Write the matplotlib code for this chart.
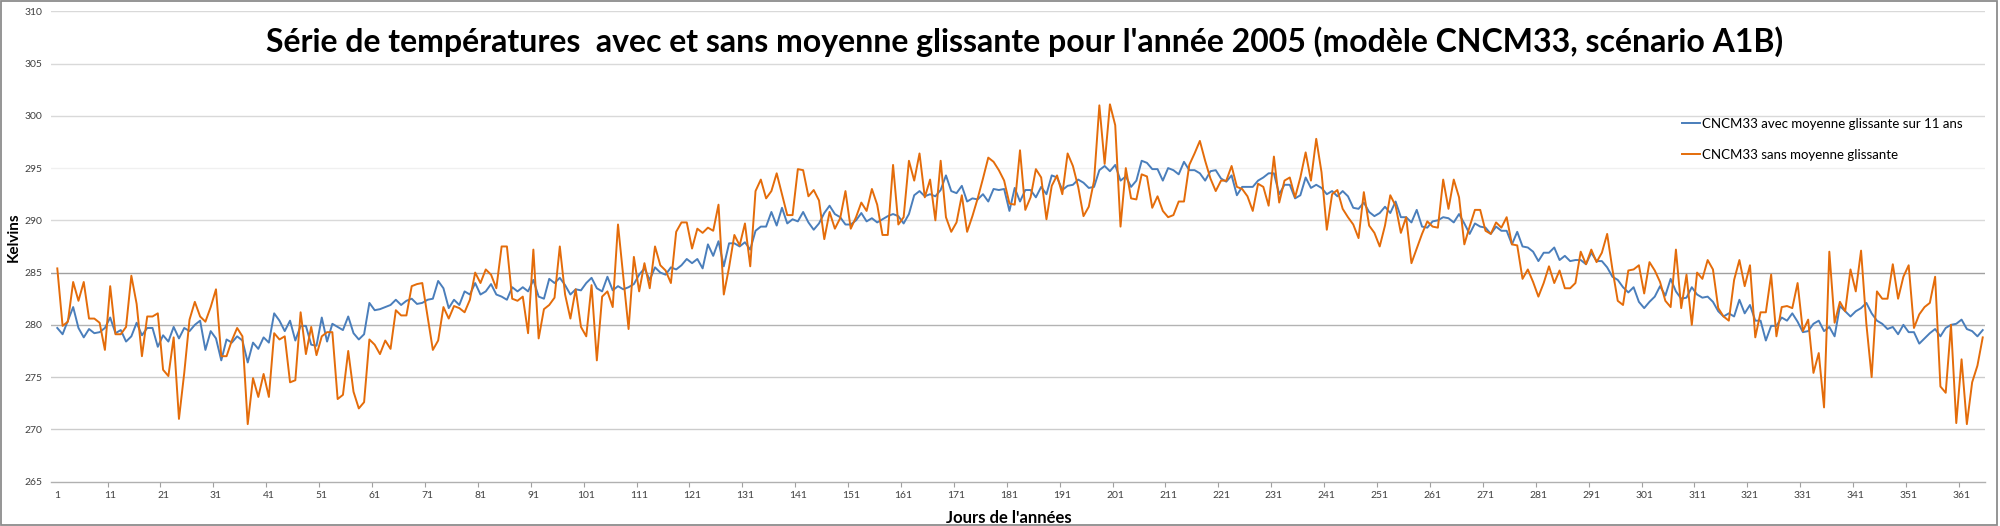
import numpy as np
import matplotlib
matplotlib.use('Agg')
import matplotlib.pyplot as plt
from matplotlib.patches import Rectangle

# jours de l'année
jours = np.arange(1, 366)

# CNCM33 avec moyenne glissante sur 11 ans
temp_avec = [
    279.7, 279.1, 280.4, 281.7, 279.7, 278.8, 279.6, 279.2, 279.3, 279.7,
    280.7, 279.2, 279.5, 278.4, 278.9, 280.2, 279.0, 279.7, 279.7, 277.9,
    279.0, 278.4, 279.8, 278.7, 279.7, 279.4, 280.0, 280.4, 277.6, 279.4,
    278.7, 276.6, 278.6, 278.3, 278.9, 278.5, 276.4, 278.3, 277.7, 278.8,
    278.3, 281.1, 280.4, 279.4, 280.4, 278.5, 279.9, 279.9, 278.1, 278.0,
    280.7, 278.4, 280.1, 279.8, 279.5, 280.8, 279.2, 278.6, 279.1, 282.1,
    281.4, 281.5, 281.7, 281.9, 282.4, 281.9, 282.3, 282.5, 282.0, 282.1,
    282.4, 282.5, 284.2, 283.5, 281.6, 282.4, 281.9, 283.2, 282.9, 284.0,
    282.9, 283.2, 283.9, 282.9, 282.7, 282.4, 283.6, 283.2, 283.6, 283.2,
    284.3, 282.7, 282.5, 284.4, 284.0, 284.5, 283.8, 282.9, 283.4, 283.3,
    284.0, 284.5, 283.5, 283.2, 284.6, 283.3, 283.7, 283.4, 283.6, 283.9,
    284.8, 285.4, 284.3, 285.5, 285.0, 284.8, 285.5, 285.3, 285.7, 286.3,
    285.9, 286.3, 285.4, 287.7, 286.6, 288.0, 285.6, 287.8, 287.8, 287.5,
    287.9, 287.2, 289.0, 289.4, 289.4, 290.8, 289.5, 291.2, 289.7, 290.1,
    289.9, 290.8, 289.8, 289.1, 289.7, 290.7, 291.4, 290.6, 290.3, 289.6,
    289.6, 290.0, 290.7, 289.9, 290.2, 289.8, 290.1, 290.4, 290.6, 290.4,
    289.7, 290.6, 292.4, 292.8, 292.3, 292.5, 292.3, 292.9, 294.3, 292.8,
    292.6, 293.3, 291.8, 292.1, 292.0, 292.5, 291.8, 293.0, 292.9, 293.0,
    290.9, 293.1, 291.8, 292.9, 292.9, 292.2, 293.2, 292.5, 294.3, 294.1,
    292.9, 293.3, 293.4, 293.9, 293.6, 293.1, 293.2, 294.8, 295.2, 294.7,
    295.3, 293.8, 294.2, 293.2, 293.8, 295.7, 295.5, 294.9, 294.9, 293.8,
    295.0, 294.8, 294.4, 295.6, 294.8, 294.8, 294.5, 293.8, 294.7, 294.8,
    294.0, 293.7, 294.3, 292.4, 293.2, 293.2, 293.2, 293.8, 294.1, 294.5,
    294.5, 292.5, 293.4, 293.4, 292.1, 292.4, 294.1, 293.1, 293.4, 293.1,
    292.5, 292.8, 292.3, 292.8, 292.3, 291.2, 291.1, 291.7, 290.8, 290.4,
    290.7, 291.3, 290.7, 291.8, 290.3, 290.3, 289.8, 291.0, 289.4, 289.3,
    289.9, 290.0, 290.3, 290.2, 289.8, 290.6, 289.7, 288.7, 289.7, 289.4,
    289.3, 288.7, 289.4, 289.0, 289.0, 287.7, 288.9, 287.5, 287.4, 287.0,
    286.1, 286.9, 286.9, 287.4, 286.2, 286.6, 286.1, 286.2, 286.2, 285.8,
    286.9, 286.1, 286.1, 285.5, 284.6, 284.3, 283.6, 283.1, 283.6, 282.2,
    281.6, 282.2, 282.7, 283.7, 282.8, 284.4, 283.2, 282.5, 282.6, 283.6,
    282.9, 282.6, 282.7, 282.2, 281.3, 280.8, 281.1, 280.8, 282.4, 281.1,
    281.9, 280.4, 280.4, 278.5, 279.9, 279.9, 280.7, 280.4, 281.1, 280.3,
    279.3, 279.4, 280.1, 280.4, 279.4, 279.8, 278.9, 281.8, 281.3, 280.8,
    281.3, 281.6, 282.1, 281.1, 280.4, 280.1, 279.6, 279.8, 279.1, 280.0,
    279.3, 279.3, 278.2, 278.7, 279.2, 279.6, 278.9, 279.7, 280.0, 280.1,
    280.5, 279.6, 279.4, 278.9, 279.5,
]

# CNCM33 sans moyenne glissante
temp_sans = [
    285.4, 279.9, 280.3, 284.1, 282.3, 284.1, 280.6, 280.6, 280.2, 277.6,
    283.7, 279.1, 279.1, 279.8, 284.7, 282.0, 277.0, 280.8, 280.8, 281.1,
    275.7, 275.1, 278.8, 271.0, 275.4, 280.5, 282.2, 280.8, 280.3, 281.7,
    283.4, 277.0, 277.0, 278.5, 279.7, 278.9, 270.5, 274.9, 273.1, 275.3,
    273.1, 279.2, 278.6, 278.9, 274.5, 274.7, 281.2, 277.2, 279.8, 277.1,
    278.9, 279.3, 279.3, 272.9, 273.3, 277.5, 273.6, 272.0, 272.6, 278.6,
    278.1, 277.2, 278.5, 277.7, 281.4, 280.9, 280.9, 283.7, 283.9, 284.0,
    280.8, 277.6, 278.5, 281.7, 280.6, 281.8, 281.6, 281.2, 282.4, 285.0,
    284.0, 285.3, 284.8, 283.5, 287.5, 287.5, 282.5, 282.3, 282.7, 279.2,
    287.2, 278.7, 281.5, 281.9, 282.6, 287.5, 282.9, 280.6, 283.4, 279.8,
    278.9, 283.8, 276.6, 282.7, 283.2, 281.7, 289.6, 284.6, 279.6, 286.5,
    283.2, 285.9, 283.5, 287.5, 285.7, 285.2, 284.0, 288.9, 289.8, 289.8,
    287.3, 289.2, 288.8, 289.3, 289.0, 291.5, 282.9, 285.5, 288.6, 287.6,
    289.7, 285.6, 292.8, 293.9, 292.1, 292.8, 294.5, 292.5, 290.5, 290.5,
    294.9, 294.8, 292.3, 292.9, 291.9, 288.2, 290.8, 289.2, 290.2, 292.8,
    289.2, 290.3, 291.7, 290.9, 293.0, 291.5, 288.6, 288.6, 295.3, 289.6,
    290.3, 295.7, 293.8, 296.4, 292.2, 293.9, 290.0, 295.7, 290.3, 288.9,
    289.8, 292.4, 288.9, 290.4, 292.1, 294.0, 296.0, 295.6, 294.8, 293.8,
    291.6, 291.5, 296.7, 291.0, 292.2, 294.9, 294.1, 290.1, 293.3, 294.3,
    292.5, 296.4, 295.2, 293.2, 290.4, 291.3, 293.8, 301.0, 295.4, 301.1,
    299.1, 289.4, 295.0, 292.1, 292.0, 294.4, 294.2, 291.2, 292.3, 290.9,
    290.3, 290.5, 291.8, 291.8, 295.3, 296.4, 297.6, 295.7, 294.0, 292.8,
    293.8, 293.8, 295.2, 293.2, 293.0, 292.3, 290.9, 293.5, 293.2, 291.4,
    296.1, 291.7, 293.8, 294.1, 292.2, 294.1, 296.5, 293.8, 297.8, 294.6,
    289.1, 292.5, 292.9, 291.1, 290.3, 289.6, 288.3, 292.7, 289.5, 288.8,
    287.5, 289.5, 292.4, 291.4, 288.8, 290.3, 285.9, 287.3, 288.7, 289.9,
    289.4, 289.3, 293.9, 291.1, 293.9, 292.2, 287.7, 289.4, 291.0, 291.0,
    289.0, 288.7, 289.8, 289.3, 290.3, 287.7, 287.6, 284.4, 285.3, 284.1,
    282.7, 284.0, 285.6, 284.0, 285.2, 283.5, 283.5, 284.0, 287.0, 285.8,
    287.2, 286.0, 286.9, 288.7, 285.3, 282.3, 281.9, 285.2, 285.3, 285.7,
    283.0, 286.0, 285.2, 284.1, 282.3, 281.7, 287.2, 281.6, 284.8, 280.0,
    285.0, 284.4, 286.2, 285.3, 281.6, 280.8, 280.4, 284.3, 286.2, 283.7,
    285.7, 278.8, 281.2, 281.2, 284.8, 278.9, 281.7, 281.8, 281.6, 284.0,
    279.4, 280.5, 275.4, 277.3, 272.1, 287.0, 280.2, 282.2, 281.3, 285.3,
    283.2, 287.1, 280.1, 275.0, 283.2, 282.5, 282.5, 285.8, 282.5, 284.6,
    285.7, 279.7, 281.0, 281.7, 282.1, 284.6, 274.1, 273.5, 280.0, 270.6,
    276.7, 270.5, 274.5, 276.1, 278.8,
]

y_ticks = [265, 270, 275, 280, 285, 290, 295, 300, 305, 310]
# couleurs des lignes de quadrillage (comme dans l'image)
grid_colors = ['#b0b0b0', '#cccccc', '#cccccc', '#b3b3b3', '#a0a0a0',
               '#d9d9d9', '#f0f0f0', '#d9d9d9', '#d9d9d9', '#d9d9d9']
x_labels = [str(j) for j in range(1, 366, 10)]

plt.rcParams['font.family'] = ['Lato', 'DejaVu Sans']

fig = plt.figure(figsize=(20, 5.26), dpi=100)
ax = fig.add_axes([0.0255, 0.0844, 0.967, 0.8941])

for yt, c in zip(y_ticks[1:], grid_colors[1:]):
    ax.axhline(yt, color=c, lw=1.0, zorder=0)

ax.plot(jours, temp_avec, color='#4a7ebb', lw=1.4,
        label='CNCM33 avec moyenne glissante sur 11 ans', zorder=2)
ax.plot(jours, temp_sans, color='#e46c0a', lw=1.4,
        label='CNCM33 sans moyenne glissante', zorder=3)

ax.set_xlim(-0.19, 365.43)
ax.set_ylim(265, 310)
ax.set_yticks(y_ticks)
ax.set_yticklabels([str(v) for v in y_ticks], fontsize=7.5, color='#404040')
ax.tick_params(axis='y', length=0, pad=6)
ax.set_xticks(range(1, 366, 10))
ax.set_xticklabels(x_labels, fontsize=7.5, color='#404040')
ax.tick_params(axis='x', which='major', length=0, pad=7)
ax.set_xticks(np.arange(10.5, 365, 10), minor=True)
ax.tick_params(axis='x', which='minor', length=3.5, color='#a0a0a0', width=0.8)

for s in ['left', 'right', 'top']:
    ax.spines[s].set_visible(False)
ax.spines['bottom'].set_color(grid_colors[0])
ax.spines['bottom'].set_linewidth(1.0)

ax.set_ylabel('Kelvins', fontsize=11, fontweight='bold')
ax.yaxis.set_label_coords(-0.0155, 0.52)
ax.set_xlabel("Jours de l'années", fontsize=12, fontweight='bold')
ax.xaxis.set_label_coords(0.495, -0.06)

fig.text(0.5125, 0.92,
         "Série de températures  avec et sans moyenne glissante pour l'année 2005 (modèle CNCM33, scénario A1B)",
         ha='center', va='center', fontsize=23, fontweight='bold')

leg = ax.legend(loc='upper left', bbox_to_anchor=(0.841, 0.776),
                bbox_transform=fig.transFigure, frameon=False, fontsize=9.5,
                handlelength=1.35, handletextpad=0.15, labelspacing=1.45,
                borderpad=0, borderaxespad=0)
for h in leg.get_lines():
    h.set_linewidth(1.4)

fig.patches.append(Rectangle((0.0005, 0.001), 0.998, 0.997, transform=fig.transFigure,
                             fill=False, edgecolor='#8c8c8c', lw=1.3))

fig.savefig('out.png', dpi=100)
